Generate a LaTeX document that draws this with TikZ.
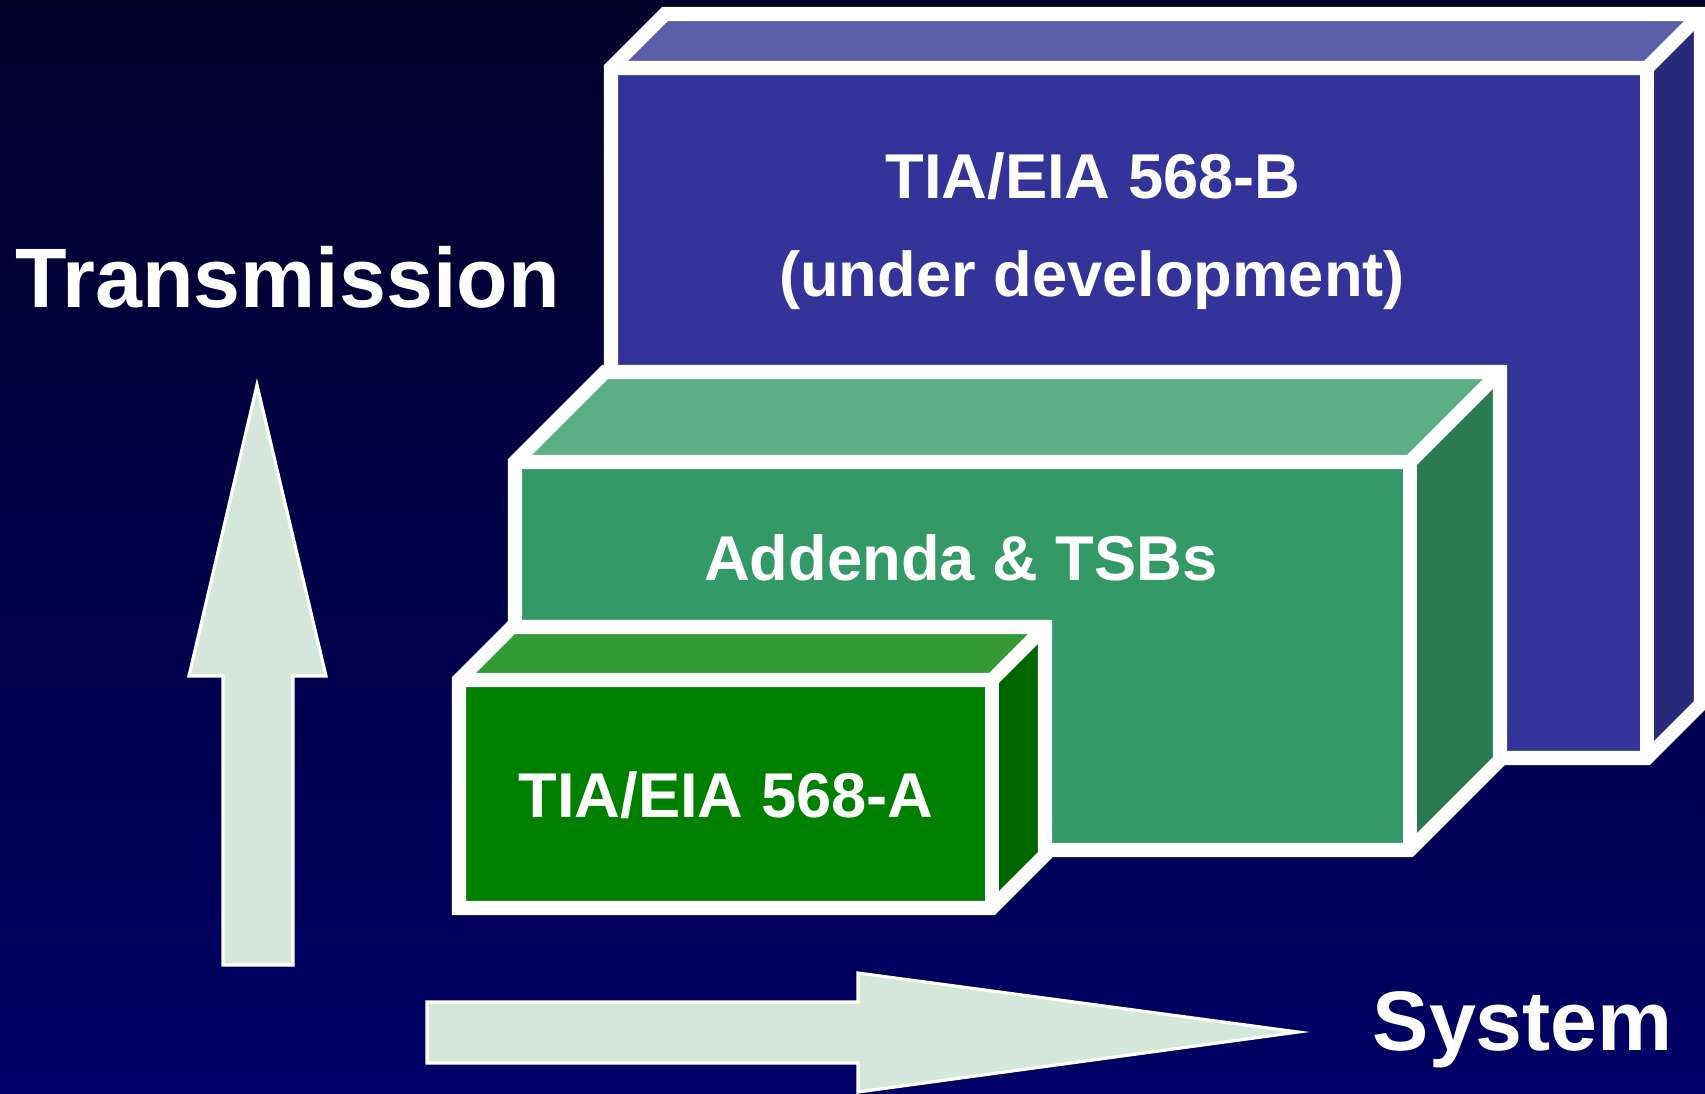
\documentclass[tikz,border=0pt]{standalone}
\usepackage{fontspec}
\setmainfont{Liberation Sans}

\definecolor{navytop}{HTML}{000028}
\definecolor{navy}{HTML}{000066}
\definecolor{bfront}{HTML}{333399}
\definecolor{btop}{HTML}{5C5EAA}
\definecolor{bside}{HTML}{29297A}
\definecolor{afront}{HTML}{339966}
\definecolor{atop}{HTML}{5BAE85}
\definecolor{aside}{HTML}{297B52}
\definecolor{sfront}{HTML}{008000}
\definecolor{stop}{HTML}{339933}
\definecolor{sside}{HTML}{006600}
\definecolor{arrowfill}{HTML}{D5E6DA}

\begin{document}
\begin{tikzpicture}[x=0.01cm,y=-0.01cm,
    edge/.style={draw=white,line width=4pt,line join=miter},
    bigarrow/.style={draw=white,line width=0.9pt,fill=arrowfill,line join=miter},
    boxtext/.style={text=white,font=\bfseries\fontsize{18}{20}\selectfont,inner sep=0pt,anchor=base},
    axistext/.style={text=white,font=\bfseries\fontsize{24}{28}\selectfont,inner sep=0pt,anchor=base west}]
  \useasboundingbox (0,0) rectangle (1705,1093);
  \shade [top color=navytop, bottom color=navy] (0,0) rectangle (1705,1093);

  % 568-B box
  \fill [bfront] (611,68) rectangle (1647,758);
  \fill [btop] (611,68) -- (665,14) -- (1701,14) -- (1647,68) -- cycle;
  \fill [bside] (1647,68) -- (1701,14) -- (1701,704) -- (1647,758) -- cycle;
  \draw [edge] (611,68) -- (665,14) -- (1701,14) -- (1701,704) -- (1647,758) -- (611,758) -- cycle;
  \draw [edge] (611,68) -- (1647,68) -- (1701,14);
  \draw [edge] (1647,68) -- (1647,758);

  % addenda box
  \fill [afront] (515,462) rectangle (1410,850);
  \fill [atop] (515,462) -- (605,372) -- (1500,372) -- (1410,462) -- cycle;
  \fill [aside] (1410,462) -- (1500,372) -- (1500,760) -- (1410,850) -- cycle;
  \draw [edge] (515,462) -- (605,372) -- (1500,372) -- (1500,760) -- (1410,850) -- (515,850) -- cycle;
  \draw [edge] (515,462) -- (1410,462) -- (1500,372);
  \draw [edge] (1410,462) -- (1410,850);

  % 568-A box
  \fill [sfront] (459,680) rectangle (992,908);
  \fill [stop] (459,680) -- (512,627) -- (1045,627) -- (992,680) -- cycle;
  \fill [sside] (992,680) -- (1045,627) -- (1045,855) -- (992,908) -- cycle;
  \draw [edge] (459,680) -- (512,627) -- (1045,627) -- (1045,855) -- (992,908) -- (459,908) -- cycle;
  \draw [edge] (459,680) -- (992,680) -- (1045,627);
  \draw [edge] (992,680) -- (992,908);

  \node [boxtext] (stdb) at (1093,198) {TIA/EIA 568-B};
  \node [boxtext] (stdbdev) at (1092,296) {(under development)};
  \node [boxtext] (addenda) at (961,580) {Addenda \& TSBs};
  \node [boxtext] (stda) at (726,817) {TIA/EIA 568-A};

  % axes
  \draw [bigarrow] (257,385) -- (326,676) -- (293,676) -- (293,965) -- (223,965) -- (223,676) -- (189,676) -- cycle;
  \draw [bigarrow] (1298,1032) -- (858,1092) -- (858,1063) -- (427,1063) -- (427,1002) -- (858,1002) -- (858,973) -- cycle;

  \node [axistext] (transmission) at (15,307) {Transmission};
  \node [axistext] (system) at (1372,1050) {System};
\end{tikzpicture}
\end{document}
